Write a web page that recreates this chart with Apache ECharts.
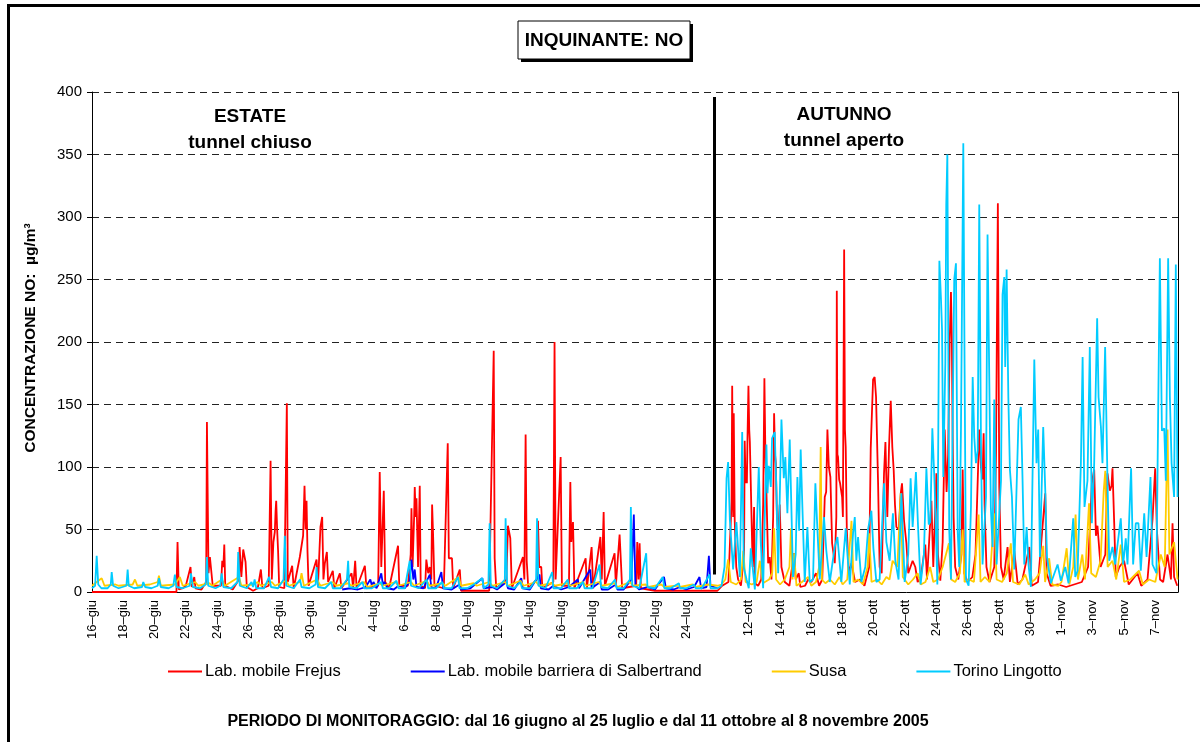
<!DOCTYPE html>
<html>
<head>
<meta charset="utf-8">
<title>Inquinante NO</title>
<script src="https://cdn.jsdelivr.net/npm/echarts@6/dist/echarts.min.js"></script>
<style>
html, body { margin: 0; padding: 0; background: #fff; }
#chart { width: 1200px; height: 742px; }
</style>
</head>
<body>
<div id="chart"></div>
<script>
// x = giorni dal 16 giugno (estate 0-40, autunno 40.2-69.4), y = NO in µg/m³
const summerLabels = ['16–giu', '18–giu', '20–giu', '22–giu', '24–giu', '26–giu', '28–giu', '30–giu',
  '2–lug', '4–lug', '6–lug', '8–lug', '10–lug', '12–lug', '14–lug', '16–lug', '18–lug', '20–lug', '22–lug', '24–lug']
const autumnLabels = ['12–ott', '14–ott', '16–ott', '18–ott', '20–ott', '22–ott', '24–ott', '26–ott', '28–ott',
  '30–ott', '1–nov', '3–nov', '5–nov', '7–nov']
const yTicks = [0, 50, 100, 150, 200, 250, 300, 350, 400]

const frejusSummer = [[0,0],[5.4,0],[5.47,40],[5.55,2],[5.8,3],[6.0,5],[6.3,20],[6.38,4],[6.54,12],[6.62,3],[7.0,2],[7.3,8],[7.35,136],[7.45,15],[7.54,28],[7.65,27],[7.72,5],
  [8.25,5],[8.33,25],[8.4,20],[8.46,38],[8.52,5],[9.0,2],[9.4,10],[9.44,36],[9.55,12],[9.67,34],[9.82,24],[9.9,4],[10.3,1],[10.6,3],[10.8,18],[10.9,3],
  [11.3,5],[11.42,105],[11.5,10],[11.6,40],[11.69,48],[11.74,65],[11.78,73],[11.84,50],[11.9,33],[11.97,4],[12.3,3],[12.46,151],[12.52,8],[12.8,21],[12.9,3],
  [13.29,28],[13.4,29],[13.5,45],[13.59,85],[13.66,50],[13.72,73],[13.78,33],[13.85,5],[14.36,26],[14.45,5],[14.61,52],[14.72,60],[14.8,10],[14.89,23],[15.02,32],[15.1,8],
  [15.4,17],[15.5,3],[15.85,15],[15.95,3],[16.6,15],[16.7,3],[16.83,25],[16.92,3],[17.45,21],[17.55,3],[18.3,5],[18.4,96],[18.5,20],[18.66,81],[18.75,8],
  [19.0,3],[19.57,37],[19.65,5],[20.2,5],[20.38,30],[20.43,67],[20.5,20],[20.6,60],[20.64,84],[20.7,60],[20.75,75],[20.85,20],[20.96,85],[21.02,5],
  [21.3,3],[21.38,26],[21.5,15],[21.6,20],[21.7,10],[21.75,70],[21.81,47],[21.9,5],[22.5,3],[22.75,119],[22.82,27],[22.88,27],[23.02,27],[23.1,3],
  [23.52,18],[23.6,1],[25.4,1],[25.47,45],[25.69,193],[25.75,27],[25.85,3],[26.5,10],[26.6,53],[26.75,43],[26.85,3],[27.56,28],[27.65,10],[27.73,126],[27.8,25],[27.9,3],
  [28.45,10],[28.52,57],[28.6,20],[28.73,20],[28.8,3],[29.5,8],[29.58,200],[29.65,10],[29.69,10],[29.97,108],[30.05,5],[30.5,5],[30.59,88],[30.65,40],[30.76,56],[30.85,3],
  [31.57,27],[31.65,3],[31.95,36],[32.05,3],[32.51,44],[32.6,10],[32.72,64],[32.8,5],[33.42,31],[33.5,5],[33.74,46],[33.84,20],[33.9,3],
  [34.8,5],[34.87,40],[34.95,10],[35.02,39],[35.1,3],[36,1],[40,1]]
const frejusAutumn = [[40.3,5],[40.7,8],[40.9,72],[40.94,165],[41.0,60],[41.04,143],[41.1,58],[41.2,20],[41.32,10],[41.5,5],[41.7,30],[41.74,121],[41.8,87],[41.83,98],[41.88,87],
  [41.92,124],[41.98,165],[42.03,130],[42.07,120],[42.18,58],[42.25,20],[42.34,68],[42.39,7],[42.6,5],[42.8,10],[42.92,70],[43.0,171],[43.07,103],[43.13,80],[43.24,23],
  [43.34,28],[43.45,10],[43.56,60],[43.62,143],[43.68,110],[43.73,103],[43.8,60],[43.88,48],[43.98,70],[44.09,20],[44.3,8],[44.6,5],[44.9,31],[45.0,10],[45.2,15],[45.3,4],
  [45.6,5],[45.8,10],[46.0,8],[46.3,15],[46.5,5],[46.7,10],[46.86,76],[46.95,80],[47.03,130],[47.12,100],[47.22,92],[47.33,39],[47.5,23],[47.6,60],[47.63,241],[47.67,110],
  [47.71,108],[47.78,90],[47.84,87],[47.97,76],[48.02,60],[48.1,274],[48.15,130],[48.2,116],[48.27,50],[48.4,15],[48.57,23],[48.8,8],[49.1,10],[49.4,5],[49.7,20],
  [49.8,115],[49.95,170],[50.05,172],[50.14,156],[50.27,87],[50.37,20],[50.5,15],[50.65,95],[50.74,120],[50.86,60],[50.97,116],[51.08,153],[51.18,116],[51.27,97],
  [51.35,70],[51.44,52],[51.59,50],[51.72,79],[51.8,87],[51.93,57],[52.08,39],[52.2,15],[52.48,25],[52.65,20],[52.8,8],[53.0,12],[53.29,38],[53.4,10],[53.68,73],
  [53.8,20],[54.0,95],[54.1,30],[54.25,9],[54.4,40],[54.53,130],[54.65,80],[54.75,110],[54.85,200],[54.93,240],[54.99,201],[55.04,124],[55.1,60],[55.2,20],[55.4,10],
  [55.6,30],[55.68,98],[55.78,15],[56.0,8],[56.3,12],[56.5,30],[56.74,130],[56.85,100],[56.95,90],[57.02,127],[57.08,70],[57.2,20],[57.4,8],[57.7,20],[57.81,111],
  [57.93,311],[58.02,84],[58.13,20],[58.3,10],[58.55,36],[58.7,8],[58.98,33],[59.2,6],[59.5,10],[59.94,36],[60.1,5],[60.5,8],[60.96,79],[61.05,15],[61.3,5],[61.8,6],
  [62.3,4],[62.8,6],[63.3,8],[63.7,20],[63.94,87],[64.09,98],[64.2,45],[64.3,53],[64.5,20],[64.8,30],[64.94,95],[65.09,81],[65.2,85],[65.26,99],[65.37,55],[65.47,12],
  [65.7,20],[66.0,25],[66.3,6],[66.86,15],[67.1,5],[67.5,10],[67.82,58],[67.99,99],[68.1,50],[68.3,10],[68.5,8],[68.78,30],[69.0,10],[69.1,55],[69.2,12],[69.4,5]]

const salbertrandSummer = [[16.0,2],[16.5,3],[17.0,2],[17.5,4],[17.8,10],[17.9,5],[18.0,8],[18.2,3],[18.5,15],[18.6,6],[18.7,8],[18.9,3],[19.3,2],[19.6,5],[20.0,3],
  [20.3,8],[20.43,26],[20.55,10],[20.64,18],[20.75,4],[21.2,3],[21.6,14],[21.7,4],[22.0,3],[22.34,16],[22.45,3],[23.0,2],[23.5,6],[23.6,2],[24.2,3],[24.96,11],[25.05,3],
  [25.6,4],[25.9,2],[26.5,8],[26.6,3],[27.0,2],[27.45,11],[27.55,3],[28.0,2],[28.62,14],[28.7,3],[29.2,2],[29.5,5],[30.0,2],[30.5,4],[31.07,10],[31.15,3],[31.86,18],
  [31.95,3],[32.5,8],[32.6,2],[33.0,2],[33.5,6],[33.6,2],[34.0,2],[34.5,10],[34.65,62],[34.75,5],[35.0,2],[35.5,4],[36.0,2],[36.58,12],[36.7,3],[37.2,2],[37.6,4],
  [38.0,2],[38.5,4],[38.85,12],[38.95,3],[39.3,4],[39.45,29],[39.55,5],[40.0,3]]

const susaSummer = [[0,5],[0.3,8],[0.62,11],[0.8,5],[1.5,6],[1.7,5],[2.6,6],[2.75,10],[2.9,5],[3.7,6],[4.2,8],[4.28,13],[4.4,5],[5.3,6],[5.62,12],[5.8,5],[6.6,8],[6.8,5],
  [7.5,7],[7.7,5],[8.3,10],[8.5,5],[9.4,12],[9.55,5],[10.3,6],[10.6,8],[10.8,5],[11.5,8],[11.7,5],[12.4,9],[12.6,5],[13.3,8],[13.4,15],[13.55,5],[14.4,10],[14.6,5],
  [15.4,8],[15.6,5],[16.4,7],[16.6,5],[17.4,8],[17.6,4],[18.4,7],[18.6,5],[19.4,8],[19.6,5],[20.4,8],[20.6,5],[21.4,9],[21.6,5],[22.4,7],[22.6,5],[23.45,12],[23.6,5],
  [24.4,7],[24.6,5],[25.4,8],[25.6,5],[26.4,8],[26.6,5],[27.4,9],[27.6,5],[28.4,8],[28.6,5],[29.4,7],[29.6,5],[30.4,7],[30.6,5],[31.4,8],[31.6,5],[32.4,8],[32.6,5],
  [33.4,7],[33.6,4],[34.4,8],[34.6,5],[35.4,6],[35.6,4],[36.4,6],[36.6,4],[37.4,5],[37.6,4],[38.4,6],[38.6,4],[39.4,6],[40.0,5]]
const susaAutumn = [[40.26,6],[40.5,10],[40.68,26],[40.85,8],[41.2,6],[41.5,10],[41.65,33],[41.8,8],[42.2,6],[42.5,8],[42.71,25],[42.9,7],[43.3,10],[43.5,15],[43.62,51],
  [43.75,10],[44.0,6],[44.3,10],[44.6,20],[44.7,51],[44.8,10],[44.9,31],[45.05,5],[45.4,8],[45.8,12],[46.0,5],[46.3,8],[46.5,20],[46.6,116],[46.68,10],[46.9,7],
  [47.2,10],[47.5,6],[47.8,12],[48.0,6],[48.3,10],[48.57,57],[48.7,8],[49.0,10],[49.3,6],[49.6,20],[49.7,47],[49.85,8],[50.2,10],[50.5,6],[50.8,12],[51.0,10],
  [51.2,25],[51.5,20],[51.72,79],[51.85,12],[52.2,6],[52.5,10],[52.8,15],[53.0,6],[53.3,8],[53.6,20],[53.8,8],[54.1,10],[54.4,20],[54.8,39],[54.95,10],
  [55.2,8],[55.5,15],[55.68,50],[55.8,8],[56.1,10],[56.4,8],[56.7,62],[56.82,8],[57.1,12],[57.4,8],[57.7,63],[57.85,10],[58.2,8],[58.5,15],[58.76,39],[58.9,8],
  [59.3,6],[59.68,14],[59.9,6],[60.3,10],[60.6,15],[60.83,37],[60.95,8],[61.21,27],[61.4,6],[61.8,5],[62.0,8],[62.33,35],[62.5,6],[62.75,20],[62.9,62],[63.05,10],
  [63.33,30],[63.5,10],[63.76,71],[63.9,15],[64.2,12],[64.5,25],[64.7,81],[64.8,97],[64.95,20],[65.26,25],[65.5,10],[65.79,38],[66.0,8],[66.4,10],[66.96,17],
  [67.2,6],[67.6,10],[68.0,8],[68.35,30],[68.6,20],[68.78,130],[68.9,30],[69.2,40],[69.42,10]]

const torinoSummer = [[0,3],[0.2,5],[0.3,29],[0.4,6],[0.6,3],[1.0,3],[1.2,6],[1.26,16],[1.35,5],[1.7,3],[2.2,5],[2.28,18],[2.35,5],[2.7,3],[3.2,4],[3.28,8],[3.4,4],
  [3.8,3],[4.2,5],[4.28,11],[4.4,4],[4.9,3],[5.2,5],[5.3,14],[5.4,4],[5.8,3],[6.25,5],[6.33,15],[6.45,4],[6.9,3],[7.27,6],[7.35,28],[7.43,5],[7.9,3],[8.2,5],
  [8.29,15],[8.4,4],[8.9,3],[9.3,8],[9.35,32],[9.45,5],[9.9,3],[10.2,8],[10.3,4],[10.4,10],[10.5,3],[11.0,3],[11.33,12],[11.45,4],[11.9,3],[12.25,10],[12.33,45],
  [12.42,5],[12.9,3],[13.3,10],[13.4,4],[13.9,3],[14.3,6],[14.36,20],[14.45,4],[14.9,3],[15.3,8],[15.4,3],[15.9,3],[16.3,10],[16.38,25],[16.45,4],[16.9,3],
  [17.3,8],[17.4,3],[17.9,3],[18.51,8],[18.6,3],[19.0,3],[19.47,9],[19.6,3],[20.0,3],[20.32,25],[20.4,5],[20.9,3],[21.4,10],[21.5,3],[22.0,3],[22.4,8],[22.5,3],
  [23.0,3],[23.41,12],[23.5,3],[24.0,3],[24.4,6],[24.96,11],[25.05,3],[25.35,6],[25.43,55],[25.5,5],[25.9,3],[26.4,10],[26.45,59],[26.55,5],[27.0,3],[27.4,8],
  [27.5,3],[28.0,3],[28.4,10],[28.46,59],[28.55,5],[29.0,3],[29.43,16],[29.5,3],[30.0,3],[30.43,10],[30.5,3],[31.0,3],[31.4,8],[31.5,3],[32.0,3],[32.46,22],
  [32.55,4],[33.0,3],[33.45,10],[33.55,3],[34.0,3],[34.4,10],[34.46,68],[34.55,5],[35.0,3],[35.44,31],[35.52,4],[36.0,3],[36.5,12],[36.6,3],[37.0,3],[37.53,7],
  [37.6,3],[38.0,3],[38.5,6],[38.6,3],[39.0,3],[39.49,14],[39.55,3],[40.0,3]]
const torinoAutumn = [[40.26,5],[40.45,20],[40.58,91],[40.68,104],[40.79,58],[41.0,18],[41.21,56],[41.43,12],[41.58,128],[41.68,20],[41.86,10],[42.0,3],[42.13,35],
  [42.39,2],[42.64,100],[42.77,39],[42.92,3],[43.13,118],[43.2,79],[43.28,101],[43.41,84],[43.49,123],[43.66,128],[43.77,81],[43.88,15],[44.09,138],[44.24,91],
  [44.34,108],[44.47,63],[44.62,122],[44.73,65],[44.83,12],[45.0,30],[45.11,92],[45.22,49],[45.32,114],[45.43,68],[45.58,8],[45.75,52],[45.9,8],[46.11,10],
  [46.26,87],[46.39,50],[46.54,10],[46.81,60],[46.96,33],[47.18,8],[47.5,36],[47.67,44],[47.92,8],[48.2,51],[48.31,30],[48.46,6],[48.67,47],[48.78,60],[48.88,25],
  [48.99,44],[49.2,8],[49.45,20],[49.63,50],[49.84,65],[49.97,35],[50.16,8],[50.37,10],[50.65,87],[50.8,40],[51.01,25],[51.22,63],[51.37,25],[51.58,10],[51.76,79],
  [51.97,8],[52.2,30],[52.35,91],[52.48,52],[52.69,96],[52.82,54],[52.99,6],[53.2,30],[53.36,99],[53.51,54],[53.61,56],[53.74,131],[53.89,84],[54.06,6],
  [54.19,265],[54.29,235],[54.36,210],[54.44,92],[54.57,183],[54.63,310],[54.7,350],[54.76,196],[54.82,50],[54.93,10],[55.14,250],[55.25,263],[55.36,49],[55.46,20],
  [55.57,130],[55.72,359],[55.8,183],[55.89,10],[56.06,5],[56.21,68],[56.32,172],[56.42,124],[56.53,103],[56.64,113],[56.74,310],[56.85,119],[56.95,22],[57.17,76],
  [57.27,286],[57.38,172],[57.48,68],[57.59,36],[57.7,154],[57.85,22],[58.13,89],[58.23,238],[58.34,252],[58.4,180],[58.49,258],[58.6,156],[58.7,98],[58.83,76],
  [58.98,18],[59.25,138],[59.4,148],[59.51,89],[59.62,22],[59.77,52],[59.89,22],[60.04,4],[60.26,186],[60.4,103],[60.51,130],[60.62,28],[60.83,132],[60.96,82],
  [61.07,28],[61.32,7],[61.75,22],[61.96,9],[62.24,20],[62.45,7],[62.75,59],[62.88,12],[63.03,17],[63.24,103],[63.35,188],[63.47,68],[63.66,89],[63.81,196],
  [63.94,55],[64.09,103],[64.28,219],[64.37,156],[64.52,132],[64.62,103],[64.79,196],[64.94,89],[65.05,25],[65.26,36],[65.43,22],[65.79,59],[65.94,22],[66.11,43],
  [66.22,22],[66.45,99],[66.58,22],[66.75,55],[66.92,55],[67.07,17],[67.29,63],[67.44,28],[67.69,92],[67.82,22],[68.07,15],[68.29,267],[68.42,129],[68.57,131],
  [68.67,89],[68.82,267],[68.93,156],[69.04,103],[69.2,76],[69.31,262],[69.42,76]]

// linea di separazione estate / autunno
const separator = { day: 39.8, from: 14, to: 396 }

const FONT = '"Liberation Sans", Arial, sans-serif'

const chart = echarts.init(document.getElementById('chart'))

function dayLabel (v) {
  const i = Math.round(v / 2)
  if (Math.abs(v - i * 2) > 1e-6) return ''
  if (i < summerLabels.length) return summerLabels[i]
  return autumnLabels[i - 21] || ''
}

function lineSeries (name, color, data, extra) {
  return Object.assign({
    name: name,
    type: 'line',
    data: data,
    showSymbol: false,
    symbol: 'none',
    sampling: null,
    animation: false,
    lineStyle: { color: color, width: 1.8 },
    itemStyle: { color: color },
    emphasis: { disabled: true }
  }, extra || {})
}

const option = {
  animation: false,
  backgroundColor: '#fff',
  textStyle: { fontFamily: FONT },
  grid: { left: 92, right: 22, top: 92, bottom: 150 },
  legend: {
    left: 168,
    top: 663,
    padding: 0,
    itemGap: 70,
    itemWidth: 34,
    itemHeight: 2,
    icon: 'rect',
    textStyle: { fontFamily: FONT, fontSize: 16.5, color: '#000', padding: [0, 0, 0, -2] },
    data: ['Lab. mobile Frejus', 'Lab. mobile barriera di Salbertrand', 'Susa', 'Torino Lingotto']
  },
  xAxis: {
    type: 'value',
    min: 0,
    max: 69.45,
    interval: 2,
    axisLine: { show: true, lineStyle: { color: '#000', width: 1 } },
    axisTick: { show: false },
    splitLine: { show: false },
    axisLabel: {
      rotate: 90,
      margin: 8,
      fontFamily: FONT,
      fontSize: 13,
      color: '#000',
      showMaxLabel: false,
      formatter: dayLabel
    }
  },
  yAxis: [{
    type: 'value',
    min: yTicks[0],
    max: yTicks[yTicks.length - 1],
    interval: yTicks[1] - yTicks[0],
    axisLine: { show: true, lineStyle: { color: '#000', width: 1 } },
    axisTick: { show: true, inside: false, length: 5, lineStyle: { color: '#000' } },
    axisLabel: { fontFamily: FONT, fontSize: 15, color: '#000', margin: 10 },
    splitLine: { show: true, lineStyle: { color: '#222', width: 1, type: [7, 5] } }
  }, {
    type: 'value',
    position: 'right',
    min: yTicks[0],
    max: yTicks[yTicks.length - 1],
    interval: yTicks[1] - yTicks[0],
    axisLine: { show: true, lineStyle: { color: '#000', width: 1 } },
    axisTick: { show: false },
    axisLabel: { show: false },
    splitLine: { show: false }
  }],
  series: [
    lineSeries('Lab. mobile Frejus', '#FF0000', frejusSummer.concat(frejusAutumn)),
    lineSeries('Lab. mobile barriera di Salbertrand', '#0000FF', salbertrandSummer),
    lineSeries('Susa', '#FFCC00', susaSummer.concat(susaAutumn)),
    lineSeries('Torino Lingotto', '#00CCFF', torinoSummer.concat(torinoAutumn), {
      markLine: {
        silent: true,
        animation: false,
        symbol: ['none', 'none'],
        label: { show: false },
        lineStyle: { color: '#000', width: 3, type: 'solid' },
        data: [[{ coord: [separator.day, separator.from] }, { coord: [separator.day, separator.to] }]]
      }
    })
  ],
  graphic: [
    { type: 'rect', silent: true, z: 100, shape: { x: 8.5, y: 5.5, width: 1200, height: 800 },
      style: { fill: 'none', stroke: '#000', lineWidth: 3 } },
    { type: 'rect', silent: true, shape: { x: 521, y: 24, width: 172, height: 38 }, style: { fill: '#000' } },
    { type: 'rect', silent: true, shape: { x: 518, y: 21, width: 172, height: 38 },
      style: { fill: '#fff', stroke: '#000', lineWidth: 1 } },
    { type: 'text', silent: true, x: 604, y: 41,
      style: { text: 'INQUINANTE: NO', font: 'bold 19px ' + FONT, fill: '#000', align: 'center', verticalAlign: 'middle' } },
    { type: 'text', silent: true, x: 250, y: 117,
      style: { text: 'ESTATE', font: 'bold 19px ' + FONT, fill: '#000', align: 'center', verticalAlign: 'middle' } },
    { type: 'text', silent: true, x: 250, y: 143,
      style: { text: 'tunnel chiuso', font: 'bold 19px ' + FONT, fill: '#000', align: 'center', verticalAlign: 'middle' } },
    { type: 'text', silent: true, x: 844, y: 115,
      style: { text: 'AUTUNNO', font: 'bold 19px ' + FONT, fill: '#000', align: 'center', verticalAlign: 'middle' } },
    { type: 'text', silent: true, x: 844, y: 141,
      style: { text: 'tunnel aperto', font: 'bold 19px ' + FONT, fill: '#000', align: 'center', verticalAlign: 'middle' } },
    { type: 'text', silent: true, x: 31, y: 338, rotation: Math.PI / 2,
      style: { text: 'CONCENTRAZIONE NO:  µg/m³', font: 'bold 15.5px ' + FONT, fill: '#000', align: 'center', verticalAlign: 'middle' } },
    { type: 'text', silent: true, x: 578, y: 722,
      style: { text: 'PERIODO DI MONITORAGGIO: dal 16 giugno al 25 luglio e dal 11 ottobre al 8 novembre 2005',
        font: 'bold 16px ' + FONT, fill: '#000', align: 'center', verticalAlign: 'middle' } }
  ]
}

chart.setOption(option)
</script>
</body>
</html>
